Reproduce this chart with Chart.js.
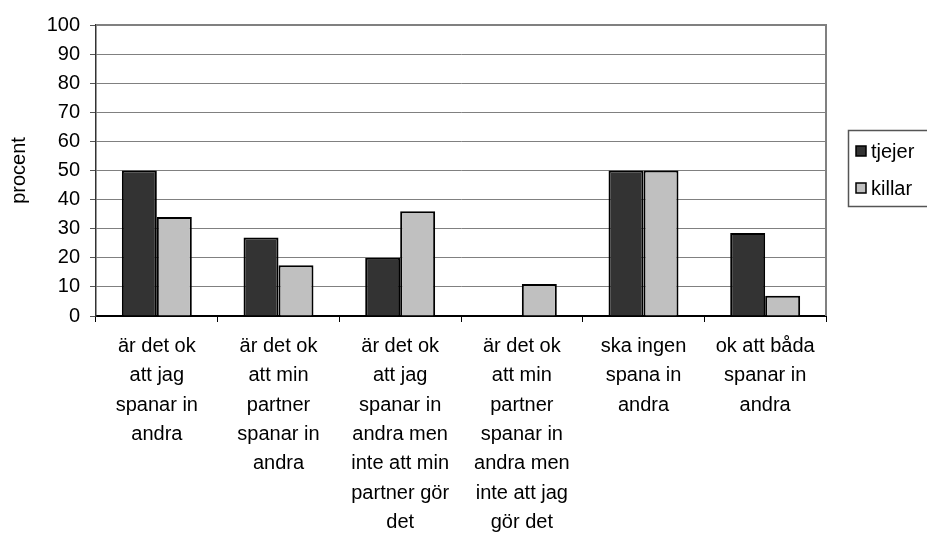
<!DOCTYPE html>
<html>
<head>
<meta charset="utf-8">
<script src="https://cdn.jsdelivr.net/npm/chart.js@4/dist/chart.umd.min.js"></script>
<style>
  html, body { margin: 0; padding: 0; background: #fff; }
  #wrap { width: 927px; height: 535px; }
</style>
</head>
<body>
<div id="wrap"><canvas id="c" width="927" height="535"></canvas></div>
<script>
  // data
  var categories = [
    ['är det ok', 'att jag', 'spanar in', 'andra'],
    ['är det ok', 'att min', 'partner', 'spanar in', 'andra'],
    ['är det ok', 'att jag', 'spanar in', 'andra men', 'inte att min', 'partner gör', 'det'],
    ['är det ok', 'att min', 'partner', 'spanar in', 'andra men', 'inte att jag', 'gör det'],
    ['ska ingen', 'spana in', 'andra'],
    ['ok att båda', 'spanar in', 'andra']
  ];
  var seriesNames = ['tjejer', 'killar'];
  var tjejer = [50, 27, 20, 0, 50, 28.5];
  var killar = [34, 17.4, 36, 11, 50, 7];
  var seriesColors = ['#333333', '#c0c0c0'];

  var FONT = 'Arial, "Liberation Sans", sans-serif';

  // plot frame + boxed legend like the old Excel chart
  var frameAndLegend = {
    id: 'frameAndLegend',
    afterDatasetsDraw: function (chart) {
      var ctx = chart.ctx;
      var a = chart.chartArea;
      ctx.save();
      ctx.strokeStyle = '#808080';
      ctx.lineWidth = 2;
      ctx.beginPath();
      ctx.moveTo(a.left, a.top);
      ctx.lineTo(a.right, a.top);
      ctx.lineTo(a.right, a.bottom);
      ctx.stroke();

      // legend box
      ctx.strokeStyle = '#555';
      ctx.lineWidth = 1.5;
      ctx.strokeRect(848.5, 130.5, 100, 76);
      ctx.font = '20px ' + FONT;
      ctx.textBaseline = 'middle';
      ctx.textAlign = 'left';
      chart.data.datasets.forEach(function (ds, i) {
        var cy = 151 + i * 37;
        ctx.fillStyle = ds.backgroundColor;
        ctx.fillRect(856, cy - 5, 10, 10);
        ctx.strokeStyle = '#000';
        ctx.lineWidth = 1.5;
        ctx.strokeRect(856, cy - 5, 10, 10);
        ctx.fillStyle = '#000';
        ctx.fillText(ds.label, 871, cy + 1);
      });
      ctx.restore();
    }
  };

  new Chart(document.getElementById('c').getContext('2d'), {
    type: 'bar',
    data: {
      labels: categories,
      datasets: [
        {
          label: seriesNames[0],
          data: tjejer,
          backgroundColor: seriesColors[0],
          borderColor: '#000',
          borderWidth: 2
        },
        {
          label: seriesNames[1],
          data: killar,
          backgroundColor: seriesColors[1],
          borderColor: '#000',
          borderWidth: 2
        }
      ]
    },
    options: {
      responsive: false,
      animation: false,
      devicePixelRatio: 1,
      layout: { padding: { top: 25, right: 101, left: 0, bottom: 0 } },
      plugins: {
        legend: { display: false },
        tooltip: { enabled: false }
      },
      datasets: {
        bar: { categoryPercentage: 0.575, barPercentage: 1 }
      },
      scales: {
        x: {
          afterFit: function (s) { s.height = 219; },
          grid: {
            offset: true,
            drawOnChartArea: false,
            drawTicks: true,
            tickLength: 6,
            color: '#000'
          },
          border: { color: '#000', width: 2 },
          ticks: {
            color: '#000',
            padding: 10,
            maxRotation: 0,
            autoSkip: false,
            font: { family: FONT, size: 20, lineHeight: 1.465 }
          }
        },
        y: {
          min: 0,
          max: 100,
          afterFit: function (s) { s.width = 96; },
          grid: {
            color: '#808080',
            lineWidth: 1,
            tickLength: 6,
            tickColor: '#555'
          },
          border: { color: '#333', width: 1.5 },
          ticks: {
            stepSize: 10,
            color: '#000',
            padding: 10,
            font: { family: FONT, size: 20 }
          },
          title: {
            display: true,
            text: 'procent',
            color: '#000',
            padding: { top: 7, bottom: 0 },
            font: { family: FONT, size: 20 }
          }
        }
      }
    },
    plugins: [frameAndLegend]
  });
</script>
</body>
</html>
